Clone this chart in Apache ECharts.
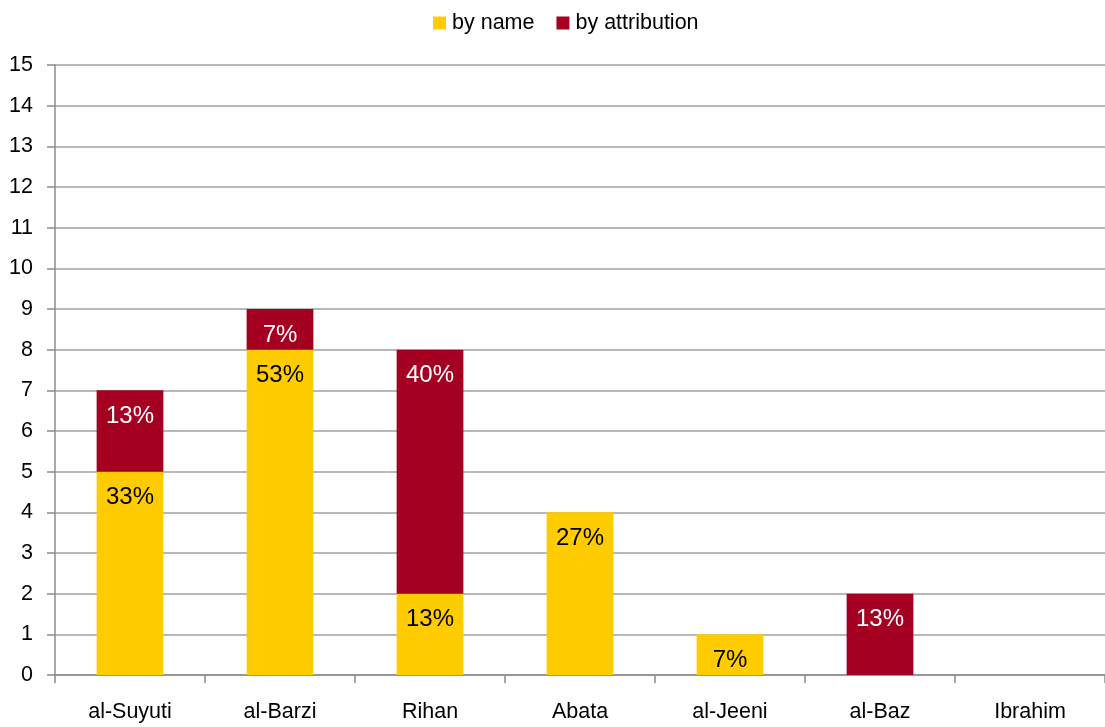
<!DOCTYPE html>
<html>
<head>
<meta charset="utf-8">
<script src="https://cdn.jsdelivr.net/npm/echarts@6/dist/echarts.min.js"></script>
<style>
html,body{margin:0;padding:0;background:#fff;}
#chart{width:1105px;height:727px;}
</style>
</head>
<body>
<div id="chart"></div>
<script>
const categories = ['al-Suyuti', 'al-Barzi', 'Rihan', 'Abata', 'al-Jeeni', 'al-Baz', 'Ibrahim'];
const byName = [5, 8, 2, 4, 1, 0, 0];
const byAttribution = [2, 1, 6, 0, 0, 2, 0];
const byNameLabels = ['33%', '53%', '13%', '27%', '7%', '', ''];
const byAttributionLabels = ['13%', '7%', '40%', '', '', '13%', ''];
const yTicks = [0, 15, 1];

const FONT = '"Liberation Sans", Arial, sans-serif';
const chart = echarts.init(document.getElementById('chart'));
chart.setOption({
  animation: false,
  textStyle: { fontFamily: FONT },
  legend: {
    top: 7,
    left: 428,
    itemWidth: 13,
    itemHeight: 13,
    itemGap: 22,
    icon: 'rect',
    textStyle: { fontSize: 21.5, color: '#000', fontFamily: FONT, padding: [0, 0, 0, 1] },
    data: ['by name', 'by attribution']
  },
  grid: { left: 55, right: -2, top: 65, bottom: 52, containLabel: false },
  xAxis: {
    type: 'category',
    data: categories,
    axisLine: { lineStyle: { color: '#8c8c8c', width: 1.5 } },
    axisTick: { show: true, length: 8, lineStyle: { color: '#8c8c8c', width: 1.5 } },
    axisLabel: { fontSize: 21.5, color: '#000', margin: 26, fontFamily: FONT }
  },
  yAxis: {
    type: 'value',
    min: yTicks[0],
    max: yTicks[1],
    interval: yTicks[2],
    axisLine: { show: true, lineStyle: { color: '#8c8c8c', width: 1.5 } },
    axisTick: { show: true, length: 8, lineStyle: { color: '#8c8c8c', width: 1.5 } },
    axisLabel: { fontSize: 21.5, color: '#000', margin: 22, fontFamily: FONT },
    splitLine: { lineStyle: { color: '#a0a0a0', width: 1.5 } }
  },
  series: [
    {
      name: 'by name',
      type: 'bar',
      stack: 'total',
      barWidth: '44.5%',
      data: byName,
      itemStyle: { color: '#FFCC00' },
      label: {
        show: true,
        position: 'insideTop',
        distance: 14,
        fontSize: 24,
        color: '#000',
        fontFamily: FONT,
        formatter: p => byNameLabels[p.dataIndex]
      }
    },
    {
      name: 'by attribution',
      type: 'bar',
      stack: 'total',
      data: byAttribution,
      itemStyle: { color: '#A50021' },
      label: {
        show: true,
        position: 'insideTop',
        distance: 14,
        fontSize: 24,
        color: '#fff',
        fontFamily: FONT,
        formatter: p => byAttributionLabels[p.dataIndex]
      }
    }
  ]
});
</script>
</body>
</html>
